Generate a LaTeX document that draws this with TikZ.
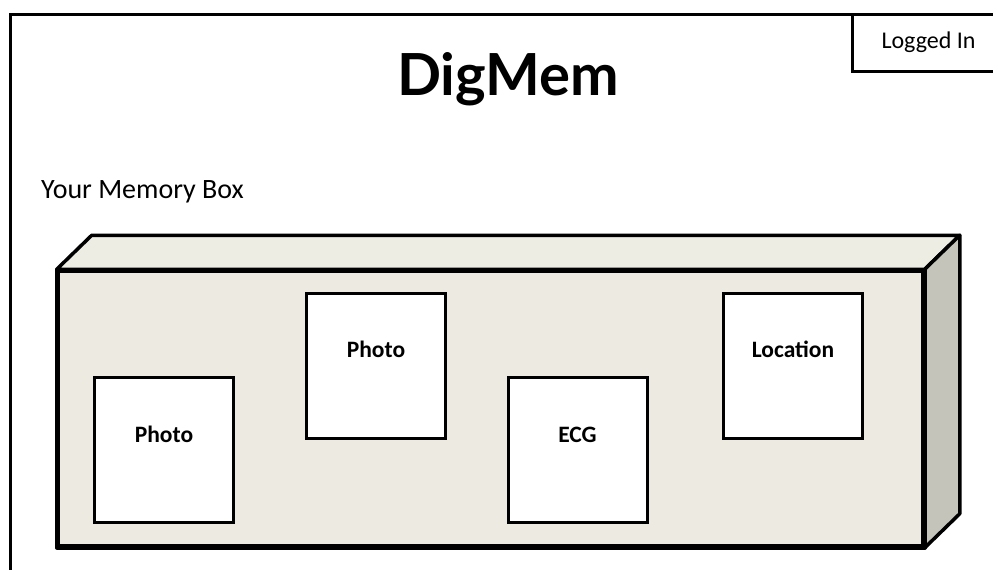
\documentclass[tikz,border=0pt]{standalone}
\usepackage{fontspec}
\setmainfont{Carlito}
\newfontfamily\titlefont{Lato}
\usetikzlibrary{positioning}
\definecolor{boxfront}{RGB}{236,234,225}
\definecolor{boxtop}{RGB}{238,237,228}
\definecolor{boxside}{RGB}{196,196,186}
\tikzset{
  frameline/.style={line width=3pt,line cap=rect},
  facebox/.style={line width=3.5pt,line join=round},
  itembox/.style={draw,fill=white,line width=3pt,minimum width=139pt,minimum height=145pt,inner sep=0pt},
  itemtext/.style={anchor=base,font=\fontsize{23.5}{25}\selectfont\bfseries}
}

\begin{document}
\begin{tikzpicture}[x=1pt,y=-1pt]
  \useasboundingbox (0,0) rectangle (993,570);
  \clip (0,0) rectangle (993,570);
  % page frame
  \coordinate (frametl) at (10.5,14.5);
  \draw[frameline] (frametl |- 0,600) -- (frametl) -- (1000,14.5);
  \draw[frameline] (1000,71.5) -- (852,71.5) -- (852,14.5);
  \node[anchor=base,font=\fontsize{24}{26}\selectfont](login) at (928.5,48) {Logged In};
  \node[anchor=base,font=\titlefont\fontsize{58}{60}\selectfont\bfseries](title) at (508,95) {DigMem};
  \node[anchor=base west,inner sep=0pt,font=\fontsize{28}{30}\selectfont](boxname) at (41,198) {Your Memory Box};
  % memory box
  \node[draw,facebox,fill=boxfront,minimum width=864.5pt,minimum height=275pt,inner sep=0pt](front) at (490.75,408.5) {};
  \draw[facebox,fill=boxtop] (front.north west) -- ++(35,-34) -- ([shift={(35,-34)}]front.north east) -- (front.north east) -- cycle;
  \draw[facebox,fill=boxside] (front.north east) -- ++(35,-34) -- ([shift={(35,-34)}]front.south east) -- (front.south east) -- cycle;
  \draw[facebox] (front.north west) rectangle (front.south east);
  % items
  \node[itembox](photoa) at (164,450) {};
  \node[itembox](photob) at (376,365.5) {};
  \node[itembox](ecg) at (577.5,450) {};
  \node[itembox](location) at (793,365.5) {};
  \node[itemtext](photoatext) at ([yshift=8pt]photoa.center) {Photo};
  \node[itemtext](photobtext) at ([yshift=8pt]photob.center) {Photo};
  \node[itemtext](ecgtext) at ([yshift=8pt]ecg.center) {ECG};
  \node[itemtext](locationtext) at ([yshift=8pt]location.center) {Location};
\end{tikzpicture}
\end{document}
